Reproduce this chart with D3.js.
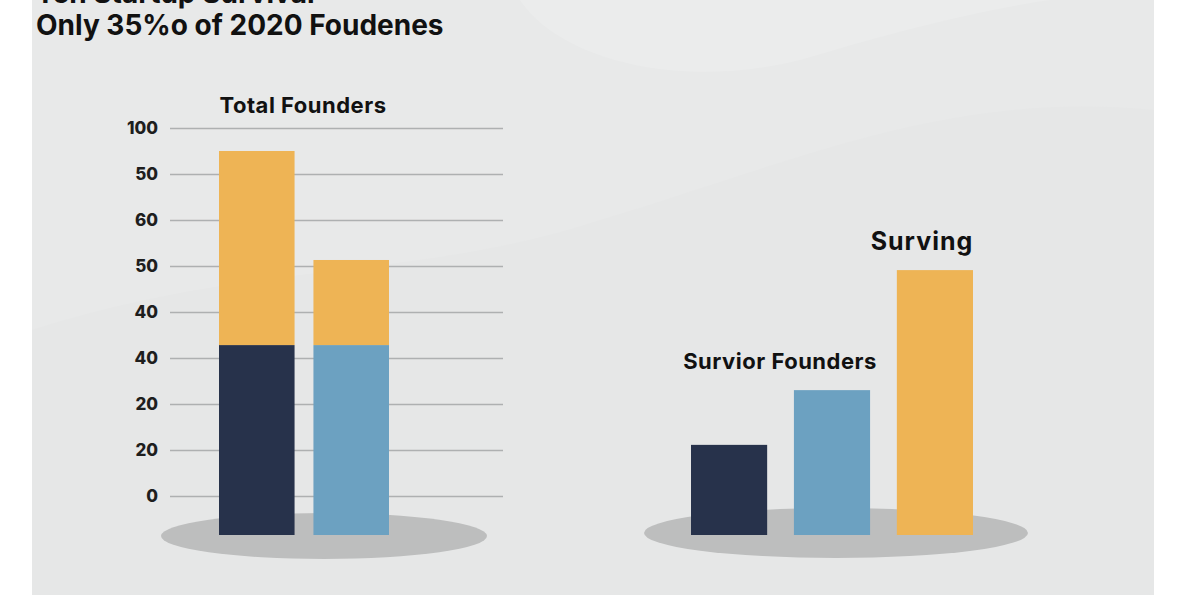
<!DOCTYPE html>
<html>
<head>
<meta charset="utf-8">
<script src="https://cdn.jsdelivr.net/npm/d3@7"></script>
<style>
  body { margin: 0; background: #ffffff; }
  svg { display: block; font-family: Inter, "Noto Sans", sans-serif; }
</style>
</head>
<body>
<svg width="1200" height="600"></svg>
<script>
// tick labels as they appear on the left axis, bottom to top
let tickLabels = ["0", "20", "20", "40", "40", "50", "60", "50", "100"]
let tickValues = [0, 10, 20, 30, 40, 50, 60, 70, 80]

// left group: stacked bars (bottom segment, top segment)
let leftBars = ["A", "B"]
let leftBottom = [41.3, 41.3]
let leftTop = [42.2, 18.5]

// right group: single bars
let rightBars = ["dark", "blue", "yellow"]
let rightValues = [19.6, 31.5, 57.6]

let floorValue = -8.5

let navy = "#27324b"
let blue = "#6ca1c1"
let gold = "#eeb455"

let svg = d3.select("svg")

// background panel
svg.append("rect")
    .attr("x", 32).attr("y", 0)
    .attr("width", 1122).attr("height", 595)
    .style("fill", "#e8e9e9")

// soft wave shapes in the background
svg.append("path")
    .attr("d", "M32,330 C250,260 420,280 600,220 C800,160 950,90 1154,110 L1154,595 L32,595 Z")
    .style("fill", "#e6e7e7")
svg.append("path")
    .attr("d", "M520,0 C560,60 680,90 800,60 C900,30 980,10 1050,0 Z")
    .style("fill", "#ebecec")

let y = d3.scaleLinear()
    .domain([floorValue, 80])
    .range([535, 128])

// grid + ticks
let axis = d3.axisLeft(y)
    .tickValues(tickValues)
    .tickSize(-333)
    .tickFormat((d, i) => tickLabels[i])

let gAxis = svg.append("g")
    .attr("transform", "translate(170,0)")
    .call(axis)

gAxis.select(".domain").remove()
gAxis.selectAll(".tick line")
    .style("stroke", "#aeb0b1")
    .style("stroke-width", 1.5)
gAxis.selectAll(".tick text")
    .attr("x", -12)
    .style("font-size", "17px")
    .style("font-weight", 800)
    .style("fill", "#1e1e1e")
    .style("font-family", "Inter, sans-serif")

// shadows under bar groups
svg.append("ellipse")
    .attr("cx", 324).attr("cy", 536)
    .attr("rx", 163).attr("ry", 23)
    .style("fill", "#bdbebe")
svg.append("ellipse")
    .attr("cx", 836).attr("cy", 533)
    .attr("rx", 192).attr("ry", 25)
    .style("fill", "#bdbebe")

// left stacked bars
let xLeft = d3.scaleBand()
    .domain(leftBars)
    .range([219, 389])
    .paddingInner(0.2)

let bottomColors = [navy, blue]

svg.selectAll(".left-bottom")
    .data(leftBars)
    .join("rect")
    .attr("class", "left-bottom")
    .attr("x", d => xLeft(d))
    .attr("width", xLeft.bandwidth())
    .attr("y", (d, i) => y(floorValue + leftBottom[i]))
    .attr("height", (d, i) => y(floorValue) - y(floorValue + leftBottom[i]))
    .style("fill", (d, i) => bottomColors[i])

svg.selectAll(".left-top")
    .data(leftBars)
    .join("rect")
    .attr("class", "left-top")
    .attr("x", d => xLeft(d))
    .attr("width", xLeft.bandwidth())
    .attr("y", (d, i) => y(floorValue + leftBottom[i] + leftTop[i]))
    .attr("height", (d, i) => y(floorValue + leftBottom[i]) - y(floorValue + leftBottom[i] + leftTop[i]))
    .style("fill", gold)

// right bars
let xRight = d3.scaleBand()
    .domain(rightBars)
    .range([691, 973])
    .paddingInner(0.26)

let rightColors = [navy, blue, gold]

svg.selectAll(".right-bar")
    .data(rightBars)
    .join("rect")
    .attr("class", "right-bar")
    .attr("x", d => xRight(d))
    .attr("width", xRight.bandwidth())
    .attr("y", (d, i) => y(floorValue + rightValues[i]))
    .attr("height", (d, i) => y(floorValue) - y(floorValue + rightValues[i]))
    .style("fill", (d, i) => rightColors[i])

// labels
let labelStyle = sel => sel
    .style("font-weight", 700)
    .style("fill", "#111")

// first title line is cut off at the top edge, as in the reference
svg.append("text")
    .attr("x", 36).attr("y", 3)
    .style("font-size", "28px")
    .text("Ten Startup Survival")
    .call(labelStyle)

svg.append("text")
    .attr("x", 36).attr("y", 35)
    .style("font-size", "28px")
    .text("Only 35%o of 2020 Foudenes")
    .call(labelStyle)

svg.append("text")
    .attr("x", 303).attr("y", 113)
    .attr("text-anchor", "middle")
    .style("font-size", "22px")
    .style("letter-spacing", "0.5px")
    .text("Total Founders")
    .call(labelStyle)

svg.append("text")
    .attr("x", 780).attr("y", 369)
    .attr("text-anchor", "middle")
    .style("font-size", "22px")
    .style("letter-spacing", "0.5px")
    .text("Survior Founders")
    .call(labelStyle)

svg.append("text")
    .attr("x", 922).attr("y", 250)
    .attr("text-anchor", "middle")
    .style("font-size", "25px")
    .style("letter-spacing", "1px")
    .text("Surving")
    .call(labelStyle)
</script>
</body>
</html>
